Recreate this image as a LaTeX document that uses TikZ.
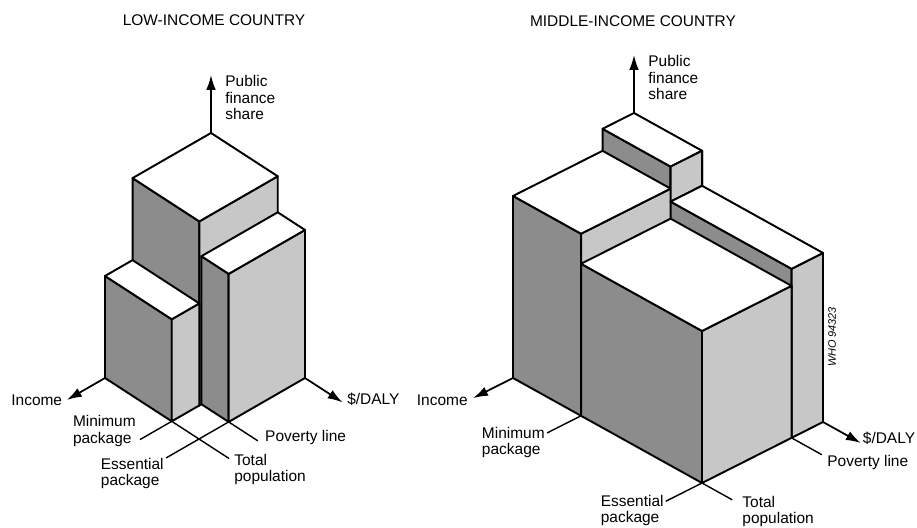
\documentclass[tikz,border=0pt]{standalone}
\usepackage{fontspec}
\setmainfont{Liberation Sans}
\usetikzlibrary{arrows.meta}

\tikzset{
  edgeline/.style={line width=1.1pt, line join=round},
  topface/.style={edgeline, fill=white},
  xface/.style={edgeline, fill=black!45},
  yface/.style={edgeline, fill=black!22},
  axis/.style={line width=1pt, -{Latex[length=8.5pt,width=5.5pt]}},
  leader/.style={line width=0.8pt},
  lbl/.style={inner sep=0pt, font=\fontsize{8.8}{9.4}\selectfont, align=left},
  title/.style={inner sep=0pt, font=\fontsize{8.8}{10}\selectfont},
  whotext/.style={inner sep=0pt, font=\fontsize{6.2}{7}\selectfont\itshape},
}

% box: x0 x1 y0 y1 z0 z1
\newcommand\drawbox[6]{%
  \filldraw[xface] (#2,#3,#5) -- (#2,#4,#5) -- (#2,#4,#6) -- (#2,#3,#6) -- cycle;
  \filldraw[yface] (#1,#4,#5) -- (#2,#4,#5) -- (#2,#4,#6) -- (#1,#4,#6) -- cycle;
  \filldraw[topface] (#1,#3,#6) -- (#2,#3,#6) -- (#2,#4,#6) -- (#1,#4,#6) -- cycle;
}

\begin{document}
\begin{tikzpicture}
  \useasboundingbox (0,0) rectangle (18.34,-10.54);
  % Titles
  \node[title] (lowtitle) at (4.28,-0.40) {LOW-INCOME COUNTRY};
  \node[title] (midtitle) at (12.66,-0.42) {MIDDLE-INCOME COUNTRY};

  % Low-income country
  \begin{scope}[shift={(4.22cm,-6.34cm)}, x={(-2.12cm,-1.22cm)}, y={(1.88cm,-1.22cm)}, z={(0cm,0.02cm)}]
    % Define boxes
    \drawbox{0}{0.74}{0}{0.71}{0}{184}
    \drawbox{0.74}{1}{0}{0.71}{0}{102}
    \drawbox{0}{0.72}{0.71}{1}{0}{148}
    % Define coordinates
    \coordinate (lTop) at (0,0,184);
    \coordinate (lShare) at (0,0,242);
    \coordinate (lPop) at (1,0,0);
    \coordinate (lInc) at (1.36,0,0);
    \coordinate (lEss) at (0,1,0);
    \coordinate (lDaly) at (0,1.40,0);
    \coordinate (lMin) at (1,0.71,0);
    \coordinate (lMinEnd) at (1.30,0.71,0);
    \coordinate (lPov) at (0.72,1,0);
    \coordinate (lPovEnd) at (0.72,1.31,0);
    \coordinate (lEssEnd) at (1.31,1,0);
    \coordinate (lPopEnd) at (1,1.32,0);
    % Connect coordinates
    \draw[axis] (lTop) -- (lShare);
    \draw[axis] (lPop) -- (lInc);
    \draw[axis] (lEss) -- (lDaly);
    \draw[leader] (lMin) -- (lPopEnd);
    \draw[leader] (lPov) -- (lEssEnd);
    \draw[leader] (lMin) -- (lMinEnd);
    \draw[leader] (lPov) -- (lPovEnd);
    % Labels
    \node[lbl, anchor=north west, xshift=8pt] (lShareLbl) at (lShare) {Public\\finance\\share};
    \node[lbl, anchor=east, xshift=-2.5pt] (lIncLbl) at (lInc) {Income};
    \node[lbl, anchor=west, xshift=2.5pt, yshift=1.9pt] (lDalyLbl) at (lDaly) {\$/DALY};
    \node[lbl, anchor=east, xshift=-2.2pt, yshift=4.9pt] (lMinLbl) at (lMinEnd) {Minimum\\package};
    \node[lbl, anchor=north east, xshift=-1.2pt] (lEssLbl) at (lEssEnd) {Essential\\package};
    \node[lbl, anchor=north west, xshift=2.8pt, yshift=2.7pt] (lPopLbl) at (lPopEnd) {Total\\population};
    \node[lbl, anchor=west, xshift=4pt, yshift=1.7pt] (lPovLbl) at (lPovEnd) {Poverty line};
  \end{scope}

  % Middle-income country
  \begin{scope}[shift={(12.68cm,-6.34cm)}, x={(-2.42cm,-1.22cm)}, y={(3.78cm,-2.10cm)}, z={(0cm,0.02cm)}]
    % Define boxes
    \drawbox{0}{1}{0}{0.36}{0}{182}
    \drawbox{0}{0.26}{0}{0.36}{182}{204}
    \filldraw[yface] (0,0.36,169) -- (0.26,0.36,169) -- (0.26,0.36,204) -- (0,0.36,204) -- cycle;
    \drawbox{0}{0.26}{0.36}{1}{0}{169}
    \drawbox{0.26}{1}{0.36}{1}{0}{152}
    % Define coordinates
    \coordinate (mTop) at (0,0,204);
    \coordinate (mShare) at (0,0,262);
    \coordinate (mPop) at (1,0,0);
    \coordinate (mInc) at (1.33,0,0);
    \coordinate (mEss) at (0,1,0);
    \coordinate (mDaly) at (0,1.20,0);
    \coordinate (mMin) at (1,0.36,0);
    \coordinate (mMinEnd) at (1.28,0.36,0);
    \coordinate (mCorner) at (1,1,0);
    \coordinate (mEssEnd) at (1.30,1,0);
    \coordinate (mPopEnd) at (1,1.16,0);
    \coordinate (mPov) at (0.26,1,0);
    \coordinate (mPovEnd) at (0.26,1.16,0);
    % Connect coordinates
    \draw[axis] (mTop) -- (mShare);
    \draw[axis] (mPop) -- (mInc);
    \draw[axis] (mEss) -- (mDaly);
    \draw[leader] (mMin) -- (mMinEnd);
    \draw[leader] (mCorner) -- (mEssEnd);
    \draw[leader] (mCorner) -- (mPopEnd);
    \draw[leader] (mPov) -- (mPovEnd);
    % Labels
    \node[lbl, anchor=north west, xshift=8pt] (mShareLbl) at (mShare) {Public\\finance\\share};
    \node[lbl, anchor=east, xshift=-2.9pt, yshift=-1.1pt] (mIncLbl) at (mInc) {Income};
    \node[lbl, anchor=west, xshift=1pt, yshift=2.5pt] (mDalyLbl) at (mDaly) {\$/DALY};
    \node[lbl, anchor=north east, xshift=-1.2pt, yshift=3.4pt] (mMinLbl) at (mMinEnd) {Minimum\\package};
    \node[lbl, anchor=north east, xshift=-1pt, yshift=3.8pt] (mEssLbl) at (mEssEnd) {Essential\\package};
    \node[lbl, anchor=north west, xshift=5.6pt, yshift=2.3pt] (mPopLbl) at (mPopEnd) {Total\\population};
    \node[lbl, anchor=north west, xshift=3pt] (mPovLbl) at (mPovEnd) {Poverty line};
  \end{scope}

  \node[whotext, rotate=90] (who) at (16.64,-6.74) {WHO 94323};
\end{tikzpicture}
\end{document}
